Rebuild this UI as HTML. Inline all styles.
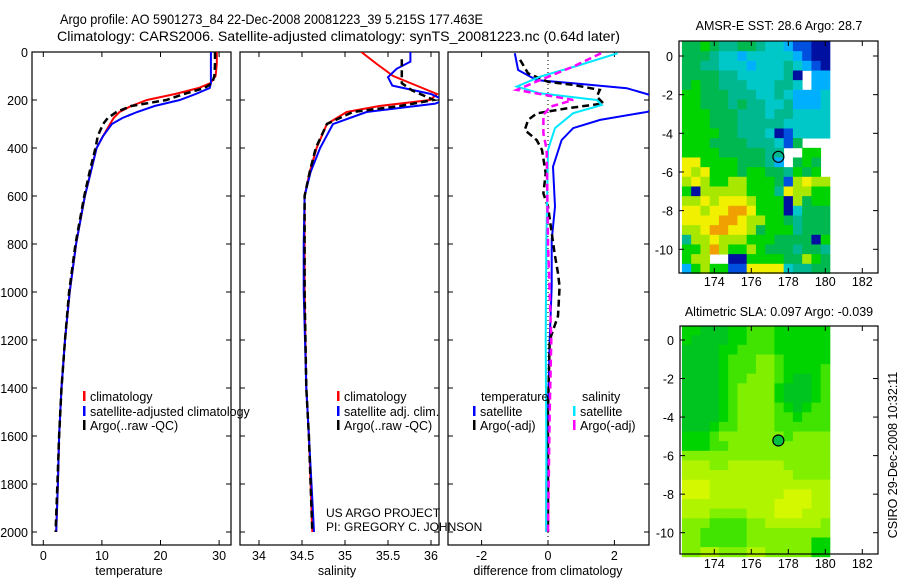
<!DOCTYPE html>
<html><head><meta charset="utf-8"><style>
html,body{margin:0;padding:0;background:#fff;}
svg{display:block;font-family:"Liberation Sans",sans-serif;}
</style></head><body>
<svg id="c" width="900" height="580" viewBox="0 0 900 580" xmlns="http://www.w3.org/2000/svg">
<text x="60" y="24" font-size="14" textLength="423" lengthAdjust="spacingAndGlyphs">Argo profile: AO 5901273_84 22-Dec-2008 20081223_39 5.215S 177.463E</text>
<text x="57" y="41" font-size="14" textLength="563" lengthAdjust="spacingAndGlyphs">Climatology: CARS2006. Satellite-adjusted climatology: synTS_20081223.nc (0.64d later)</text>
<text x="129" y="575" font-size="12.5" text-anchor="middle">temperature</text>
<text x="337" y="575" font-size="12.5" text-anchor="middle">salinity</text>
<text x="548" y="575" font-size="12.5" text-anchor="middle">difference from climatology</text>
<text x="779" y="30" font-size="12.5" text-anchor="middle">AMSR-E SST: 28.6 Argo: 28.7</text>
<text x="779" y="316" font-size="12.5" text-anchor="middle">Altimetric SLA: 0.097 Argo: -0.039</text>
<text x="0" y="0" font-size="12.5" text-anchor="middle" transform="translate(897,455) rotate(-90)">CSIRO 29-Dec-2008 10:32:11</text>
<text x="326" y="517" font-size="12">US ARGO PROJECT</text>
<text x="326" y="531" font-size="12">PI: GREGORY C. JOHNSON</text>
</svg>
<script>
// ---- data ----
const tDepth=[0,50,100,130,150,175,200,225,250,275,300,350,400,500,600,800,1000,1200,1400,1600,1800,2000];
const tClim=[29.6,29.6,29.4,28.5,26.5,22.5,17.7,15,13,12,11.4,10.2,9.1,8.1,7.1,5.6,4.5,3.7,3.1,2.7,2.5,2.2];
const tSat=[28.6,28.6,28.6,28.6,28.4,26,23.3,19,16,13.5,11.7,10.2,9.1,8.1,7.1,5.6,4.5,3.7,3.1,2.7,2.5,2.2];
const tArgo=[29.3,29.3,29.2,28.8,27.5,24,21,15,12.5,11,10.2,9.3,8.9,7.9,7.0,5.5,4.4,3.7,3.1,2.7,2.4,2.1];
const sClimDepth=[0,50,100,150,175,200,225,250,300,400,500,600,800,1000,1400,1600,1800,2000];
const sClim=[35.19,35.37,35.56,35.9,36.07,35.99,35.4,35.02,34.79,34.67,34.59,34.53,34.53,34.53,34.55,34.58,34.6,34.62];
const sSatDepth=[0,40,70,105,140,175,200,215,250,300,400,500,600,800,1000,1400,1600,1800,2000];
const sSat=[35.76,35.76,35.6,35.5,35.55,36.0,36.15,36.05,35.25,34.86,34.71,34.6,34.53,34.52,34.52,34.55,34.58,34.61,34.64];
const sArgoDepth=[30,130,160,200,225,250,300,400,500,600,800,1000,1400,1600,1800,2000];
const sArgo=[35.66,35.66,35.78,36.03,35.64,35.09,34.79,34.66,34.59,34.53,34.53,34.53,34.55,34.58,34.6,34.62];
const dTSatDepth=[5,75,117,130,151,200,249,283,317,367,478,644,783,975,1200,1500,1800,2000];
const dTSat=[-1.0,-0.9,-0.34,0.76,2.37,3.6,3.0,1.57,0.76,0.41,0.15,0.21,0.11,0.11,0.05,0.0,-0.05,-0.05];
const dSSatDepth=[5,54,103,144,172,200,221,255,317,408,800,1200,1600,2000];
const dSSat=[2.1,0.96,-0.24,-0.94,-0.24,1.47,1.62,0.76,0.21,0.0,-0.05,-0.07,-0.05,-0.05];
const dSArgoDepth=[5,61,117,158,200,228,262,339,408,800,1200,1500,2000];
const dSArgo=[1.6,0.76,-0.24,-0.94,0.76,0.07,-0.14,-0.14,-0.04,0.0,0.1,0.05,0.0];
const dTArgoDepth=[33,89,124,137,158,186,214,235,256,283,325,367,408,506,589,644,839,922,978,1100,1200,1500,2000];
const dTArgo=[-0.84,-0.6,0,0.76,1.56,1.47,1.67,0.56,-0.34,-0.6,-0.7,-0.34,-0.18,-0.07,-0.14,0,0.2,0.3,0.35,0.3,0.05,0.0,0.0];
const depthTicks=[0,200,400,600,800,1000,1200,1400,1600,1800,2000];
const tTicks=[0,10,20,30];
const sTicks=[34,34.5,35,35.5,36];
const sTickLabels=["34","34.5","35","35.5","36"];
const dTicks=[-2,0,2];
const lonTicks=[174,176,178,180,182];
const latTicks=[0,-2,-4,-6,-8,-10];
const sstGrid=[
"5565445543321100",
"5554332333332100",
"5544333233343210",
"5555443333340w22",
"5655444333443w22",
"6655544433432223",
"6655545443342223",
"6665554443443333",
"6665554444433333",
"6666554443013333",
"6665555444315www",
"66665555544ww66w",
"88666655542w565w",
"878666566554656w",
"7876677666517877",
"6077777666487766",
"7787888766607566",
"8878899866603555",
"8888998776654555",
"7789988756664555",
"4778777666555506",
"6679766765554554",
"677ww00666655765",
"2676611888834455"];
const slaGrid=[
"1100011222111111",
"1000011222111111",
"0000112222111111",
"0000122233211111",
"0000122233211112",
"0000122333210012",
"0000123333100012",
"0000123333100012",
"0000123333210122",
"0000123333221222",
"0001223333222222",
"1112333333323333",
"1112233333333333",
"3333333333333333",
"4443344444433333",
"4444444444443333",
"5554444444444444",
"5554444444455544",
"4444444444555544",
"4443333444555444",
"3332222334444443",
"3322222333333333",
"3322222333333311",
"3344333443333311"];
const argoLon=177.463, argoLat=-5.215;
const gridLon0=172.25, gridLat0=0.75, gridStep=0.5;
// ---- scales ----
const yZ=z=>52+0.24*z;
const xT=v=>43.3+5.86*v;
const xS=v=>259+86*(v-34);
const xD=v=>548+33.2*v;
const lonX=l=>714.3+18.5*(l-174);
const lat1=l=>56-19.33*l;
const lat2=l=>340-19.27*l;
const sstCol={"0":"#0010a0","1":"#0050e0","2":"#00b0ff","3":"#00c8c8","4":"#00b890","5":"#00b850","6":"#00d400","7":"#a8e800","8":"#f0f000","9":"#f0a000"};
const slaCol={"0":"#00c420","1":"#00d400","2":"#40e400","3":"#80f000","4":"#b0f400","5":"#d4f800"};
const svg=document.getElementById('c');
const NS="http://www.w3.org/2000/svg";
function mk(tag,attrs,parent){const e=document.createElementNS(NS,tag);for(const k in attrs)e.setAttribute(k,attrs[k]);(parent||svg).appendChild(e);return e;}
const defs=mk('defs',{});
[["cp1",32,52,199,493],["cp2",240,52,199,493],["cp3",448,52,201,493]].forEach(c=>{const cp=mk('clipPath',{id:c[0]},defs);mk('rect',{x:c[1],y:c[2],width:c[3],height:c[4]},cp);});
function line(xs,zs,xf,color,clip,name,dash){
  const d=xs.map((v,i)=>(i?'L':'M')+xf(v).toFixed(1)+','+yZ(zs[i]).toFixed(1)).join('');
  const p=mk('path',{d:d,fill:'none',stroke:color,'stroke-width':dash?2.5:2,'clip-path':'url(#'+clip+')'});
  if(dash)p.setAttribute('stroke-dasharray',dash);
  
  
}
function frame(x0,x1,name,xticks,xlabels,xf,ylabels){
  const g=mk('g',{});
  
  
  mk('rect',{x:x0,y:52,width:x1-x0,height:493,fill:'none',stroke:'#000','stroke-width':1.2},g);
  depthTicks.forEach(z=>{const y=yZ(z);
    mk('line',{x1:x0,x2:x0+5,y1:y,y2:y,stroke:'#000'},g);
    mk('line',{x1:x1,x2:x1-5,y1:y,y2:y,stroke:'#000'},g);
    if(ylabels){const t=mk('text',{x:x0-4,y:y+5,'font-size':12.5,'text-anchor':'end'},g);t.textContent=z;
      
      }
  });
  xticks.forEach((v,i)=>{const x=xf(v);
    mk('line',{x1:x,x2:x,y1:545,y2:540,stroke:'#000'},g);
    mk('line',{x1:x,x2:x,y1:52,y2:57,stroke:'#000'},g);
    const t=mk('text',{x:x,y:560,'font-size':12.5,'text-anchor':'middle'},g);t.textContent=xlabels[i];
    
    
  });
}
frame(32,231,'temperature-panel',tTicks,tTicks.map(String),xT,true);
frame(240,439,'salinity-panel',sTicks,sTickLabels,xS,false);
frame(448,649,'difference-panel',dTicks,dTicks.map(String),xD,false);
mk('line',{x1:xD(0),x2:xD(0),y1:52,y2:545,stroke:'#000','stroke-dasharray':'1,3','stroke-width':1});
line(tClim,tDepth,xT,'#ff0000','cp1','temp-climatology-line');
line(tSat,tDepth,xT,'#0000ff','cp1','temp-satellite-line');
line(tArgo,tDepth,xT,'#000','cp1','temp-argo-line','7,4');
line(sClim,sClimDepth,xS,'#ff0000','cp2','sal-climatology-line');
line(sSat,sSatDepth,xS,'#0000ff','cp2','sal-satellite-line');
line(sArgo,sArgoDepth,xS,'#000','cp2','sal-argo-line','7,4');
line(dTSat,dTSatDepth,xD,'#0000ff','cp3','diff-temp-satellite-line');
line(dTArgo,dTArgoDepth,xD,'#000','cp3','diff-temp-argo-line','7,4');
line(dSSat,dSSatDepth,xD,'#00e8ff','cp3','diff-sal-satellite-line');
line(dSArgo,dSArgoDepth,xD,'#ff00ff','cp3','diff-sal-argo-line','7,4');
function leg(x,y,color,text,name){
  mk('rect',{x:x,y:y-10,width:2.5,height:10,fill:color});
  const t=mk('text',{x:x+7,y:y,'font-size':12.5});t.textContent=text;
  
  
}
leg(83,401,'#ff0000','climatology','legend-climatology');
leg(83,416,'#0000ff','satellite-adjusted climatology','legend-satellite-adjusted');
leg(83,430,'#000','Argo(..raw -QC)','legend-argo');
leg(337,401,'#ff0000','climatology','legend-sal-climatology');
leg(337,416,'#0000ff','satellite adj. clim.','legend-sal-satellite');
leg(337,430,'#000','Argo(..raw -QC)','legend-sal-argo');
{const t=mk('text',{x:481,y:401,'font-size':12.5});t.textContent='temperature';


const t2=mk('text',{x:582,y:401,'font-size':12.5});t2.textContent='salinity';

}
leg(473,416,'#0000ff','satellite','legend-diff-temp-satellite');
leg(473,430,'#000','Argo(-adj)','legend-diff-temp-argo');
leg(573,416,'#00e8ff','satellite','legend-diff-sal-satellite');
leg(573,430,'#ff00ff','Argo(-adj)','legend-diff-sal-argo');
function map(grid,pal,latf,bx0,by0,bx1,by1,labelY,name,circleFill){
  const g=mk('g',{});
  
  
  grid.forEach((row,r)=>{
    for(let c=0;c<row.length;c++){const ch=row[c];if(!pal[ch])continue;
      const lon=gridLon0+c*gridStep, lat=gridLat0-r*gridStep;
      const x=lonX(lon), y=latf(lat), w=lonX(lon+gridStep)-x, h=latf(lat-gridStep)-y;
      const cell=mk('rect',{x:x.toFixed(2),y:y.toFixed(2),width:(w+0.4).toFixed(2),height:(h+0.4).toFixed(2),fill:pal[ch]},g);
      
      
    }
  });
  const cx=lonX(argoLon), cy=latf(argoLat);
  const circ=mk('circle',{cx:cx,cy:cy,r:5.5,fill:circleFill,stroke:'#000','stroke-width':1.2},g);
  
  
  mk('rect',{x:bx0,y:by0,width:bx1-bx0,height:by1-by0,fill:'none',stroke:'#000','stroke-width':1.2},g);
  lonTicks.forEach(l=>{const x=lonX(l);
    mk('line',{x1:x,x2:x,y1:by1,y2:by1-5,stroke:'#000'},g);
    mk('line',{x1:x,x2:x,y1:by0,y2:by0+5,stroke:'#000'},g);
    const t=mk('text',{x:x,y:labelY,'font-size':12.5,'text-anchor':'middle'},g);t.textContent=l;
    
    
  });
  latTicks.forEach(l=>{const y=latf(l);
    mk('line',{x1:bx0,x2:bx0+5,y1:y,y2:y,stroke:'#000'},g);
    mk('line',{x1:bx1,x2:bx1-5,y1:y,y2:y,stroke:'#000'},g);
    const t=mk('text',{x:bx0-6,y:y+5,'font-size':12.5,'text-anchor':'end'},g);t.textContent=l;
    
    
  });
}
map(sstGrid,sstCol,lat1,679,41,878,273,286,'sst-map','none');
map(slaGrid,slaCol,lat2,680,326,878,554,568,'sla-map','#00c040');
</script>
</body></html>
